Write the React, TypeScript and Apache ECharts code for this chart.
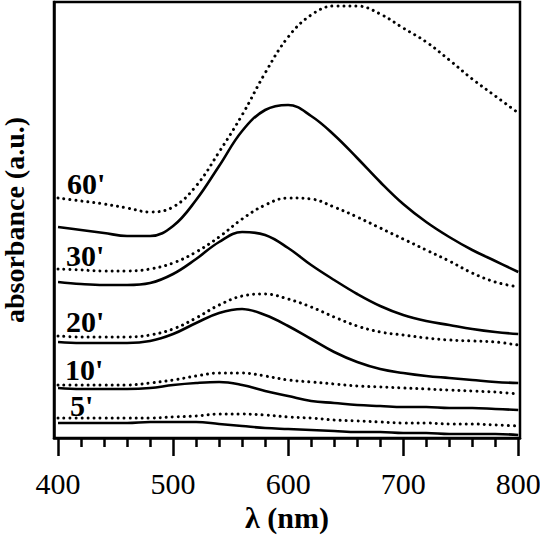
import { useRef, useEffect } from "react";
import * as echarts from "echarts";

// wavelength grid, nm
const WAVELENGTHS = [
  400, 420, 440, 460, 480, 500, 520, 540, 560, 580, 600,
  620, 640, 660, 680, 700, 720, 740, 760, 780, 800,
];

// absorbance (a.u.); dotted / solid pairs per time
const MIN60_DOTTED = [
  0.48, 0.474, 0.468, 0.46, 0.452, 0.462, 0.504, 0.572, 0.646, 0.73, 0.802,
  0.846, 0.864, 0.864, 0.848, 0.82, 0.792, 0.756, 0.718, 0.684, 0.65,
];
const MIN60_SOLID = [
  0.422, 0.416, 0.41, 0.404, 0.404, 0.424, 0.476, 0.544, 0.614, 0.656, 0.666,
  0.644, 0.606, 0.56, 0.512, 0.468, 0.432, 0.402, 0.376, 0.354, 0.332,
];
const MIN30_DOTTED = [
  0.338, 0.336, 0.334, 0.334, 0.338, 0.35, 0.372, 0.402, 0.438, 0.466, 0.48,
  0.478, 0.462, 0.442, 0.42, 0.398, 0.376, 0.354, 0.33, 0.312, 0.302,
];
const MIN30_SOLID = [
  0.312, 0.308, 0.306, 0.306, 0.31, 0.328, 0.358, 0.392, 0.412, 0.406, 0.38,
  0.346, 0.316, 0.288, 0.264, 0.246, 0.234, 0.226, 0.218, 0.212, 0.208,
];
const MIN20_DOTTED = [
  0.204, 0.202, 0.202, 0.202, 0.206, 0.218, 0.24, 0.266, 0.284, 0.288, 0.278,
  0.262, 0.242, 0.224, 0.212, 0.206, 0.2, 0.196, 0.194, 0.192, 0.186,
];
const MIN20_SOLID = [
  0.192, 0.19, 0.19, 0.19, 0.194, 0.208, 0.23, 0.25, 0.258, 0.246, 0.224,
  0.198, 0.172, 0.152, 0.138, 0.13, 0.124, 0.12, 0.116, 0.112, 0.11,
];
const MIN10_DOTTED = [
  0.106, 0.106, 0.106, 0.106, 0.11, 0.116, 0.124, 0.13, 0.13, 0.124, 0.116,
  0.112, 0.108, 0.104, 0.102, 0.1, 0.098, 0.096, 0.094, 0.092, 0.088,
];
const MIN10_SOLID = [
  0.1, 0.098, 0.098, 0.098, 0.1, 0.106, 0.11, 0.112, 0.106, 0.094, 0.084,
  0.074, 0.07, 0.066, 0.064, 0.062, 0.062, 0.06, 0.06, 0.058, 0.056,
];
const MIN5_DOTTED = [
  0.04, 0.04, 0.04, 0.04, 0.04, 0.042, 0.044, 0.048, 0.048, 0.046, 0.042,
  0.04, 0.036, 0.034, 0.032, 0.03, 0.03, 0.028, 0.028, 0.026, 0.024,
];
const MIN5_SOLID = [
  0.03, 0.03, 0.03, 0.03, 0.032, 0.032, 0.032, 0.028, 0.024, 0.02, 0.018,
  0.016, 0.014, 0.012, 0.012, 0.01, 0.01, 0.008, 0.008, 0.008, 0.006,
];

const MAJOR_TICKS = [400, 500, 600, 700, 800];
const MINOR_TICKS = [
  420, 440, 460, 480, 520, 540, 560, 580, 620, 640, 660, 680, 720, 740, 760, 780,
];

const TIME_LABELS = ["60'", "30'", "20'", "10'", "5'"];
// label anchor (left, vertical centre of digits) in px
const TIME_LABEL_POS: [number, number][] = [
  [67, 185],
  [66, 257],
  [66, 323],
  [65, 371],
  [70, 407],
];

const CURVES: { values: number[]; dotted: boolean }[] = [
  { values: MIN60_DOTTED, dotted: true },
  { values: MIN60_SOLID, dotted: false },
  { values: MIN30_DOTTED, dotted: true },
  { values: MIN30_SOLID, dotted: false },
  { values: MIN20_DOTTED, dotted: true },
  { values: MIN20_SOLID, dotted: false },
  { values: MIN10_DOTTED, dotted: true },
  { values: MIN10_SOLID, dotted: false },
  { values: MIN5_DOTTED, dotted: true },
  { values: MIN5_SOLID, dotted: false },
];

const FONT = '"Liberation Serif", "Times New Roman", serif';

export default function App() {
  const chartRef = useRef<HTMLDivElement>(null);

  useEffect(() => {
    if (!chartRef.current) return;
    document.body.style.margin = "0";
    const chart = echarts.init(chartRef.current, null, { renderer: "svg" });

    const xRange = { min: 396.5, max: 801.5 };

    const series = CURVES.map((c) => ({
      type: "line" as const,
      data: WAVELENGTHS.map((w, i) => [w, c.values[i]]),
      smooth: 0.4,
      showSymbol: false,
      silent: true,
      lineStyle: c.dotted
        ? { color: "#000", width: 3, type: [0.01, 6], cap: "round" as const }
        : { color: "#000", width: 2.6 },
    }));

    chart.setOption({
      animation: false,
      grid: {
        left: 54,
        right: 20,
        top: 2,
        bottom: 99,
        show: true,
        borderColor: "#000",
        borderWidth: 2.5,
        containLabel: false,
        outerBoundsMode: "none",
      },
      xAxis: [
        {
          type: "value",
          ...xRange,
          name: "λ (nm)",
          nameLocation: "middle",
          nameGap: 62,
          nameTextStyle: { fontFamily: FONT, fontWeight: "bold", fontSize: 30, color: "#000" },
          axisLine: { show: true, lineStyle: { color: "#000", width: 2.5 } },
          axisTick: {
            show: true,
            inside: false,
            length: 18,
            customValues: MAJOR_TICKS,
            lineStyle: { color: "#000", width: 2.5 },
          },
          axisLabel: {
            customValues: MAJOR_TICKS,
            margin: 30,
            fontFamily: FONT,
            fontSize: 30,
            color: "#000",
          },
          splitLine: { show: false },
        },
        {
          type: "value",
          ...xRange,
          position: "bottom",
          axisLine: { show: false },
          axisTick: {
            show: true,
            inside: false,
            length: 9,
            customValues: MINOR_TICKS,
            lineStyle: { color: "#000", width: 2.5 },
          },
          axisLabel: { show: false },
          splitLine: { show: false },
        },
      ],
      yAxis: {
        type: "value",
        min: 0,
        max: 0.872,
        name: "absorbance (a.u.)",
        nameLocation: "middle",
        nameGap: 28,
        nameTextStyle: {
          fontFamily: FONT,
          fontWeight: "bold",
          fontSize: 28,
          lineHeight: 24,
          color: "#000",
        },
        axisLine: { show: true, lineStyle: { color: "#000", width: 2.5 } },
        axisTick: { show: false },
        axisLabel: { show: false },
        splitLine: { show: false },
      },
      graphic: TIME_LABELS.map((t, i) => ({
        type: "text",
        left: TIME_LABEL_POS[i][0],
        top: TIME_LABEL_POS[i][1] - 17,
        style: {
          text: t,
          fill: "#000",
          font: `bold 30px ${FONT}`,
        },
      })),
      series,
    });

    return () => chart.dispose();
  }, []);

  return <div ref={chartRef} style={{ width: 540, height: 537 }} />;
}
